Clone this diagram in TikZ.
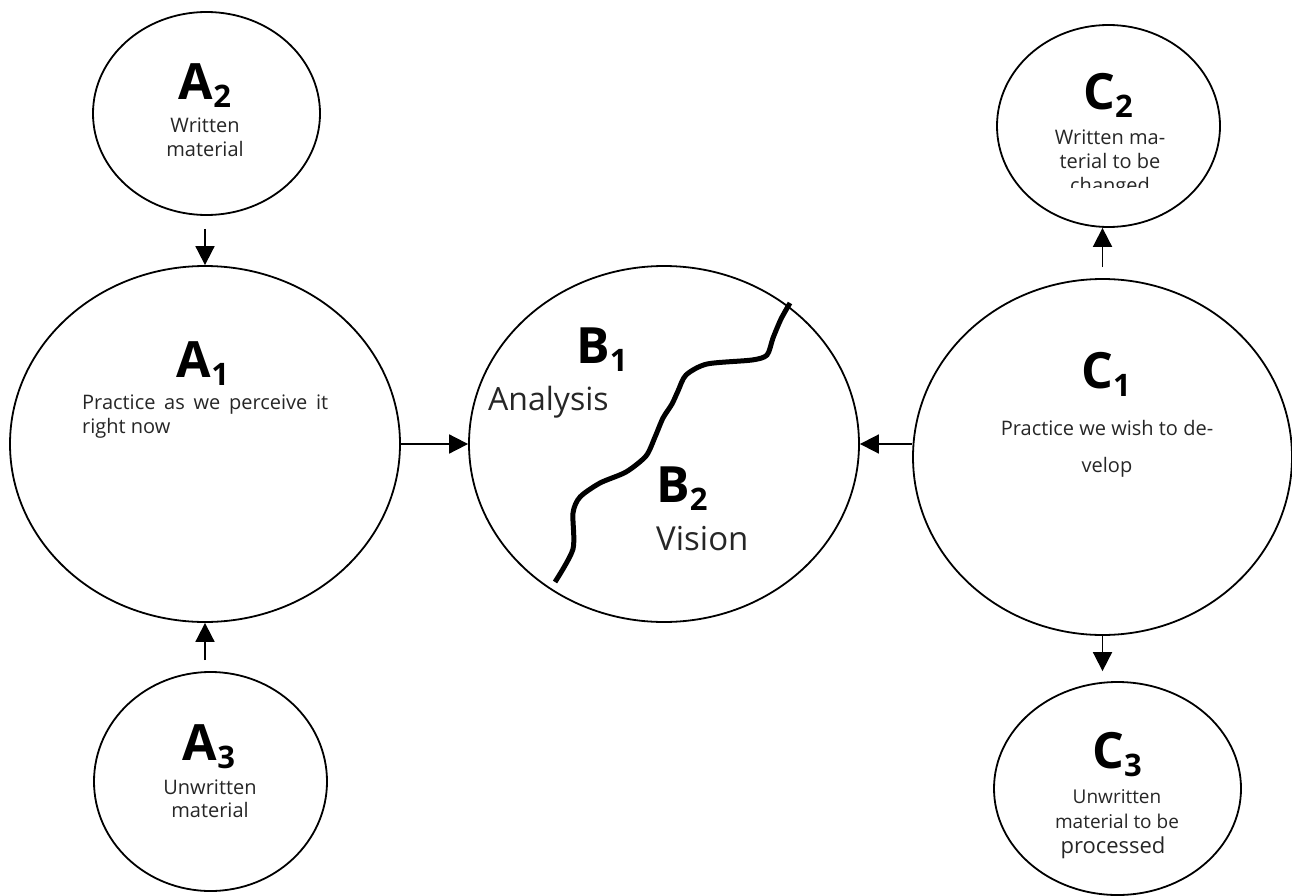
\documentclass[tikz,border=0pt]{standalone}
\usepackage{fontspec}
\setmainfont{Open Sans}
\usetikzlibrary{shapes.geometric,arrows.meta}
\newcommand\biglbl[2]{\fontsize{50}{50}\selectfont\bfseries #1\raisebox{-8pt}{\fontsize{31}{31}\selectfont\bfseries #2}}
\begin{document}
\begin{tikzpicture}[x=1pt,y=-1pt,
  ell/.style={draw, ellipse, line width=1.8pt, inner sep=0pt},
  arr/.style={line width=1.8pt, -{Triangle[length=19pt,width=19pt]}},
  lbl/.style={anchor=base, inner sep=0pt, text=black},
  txt/.style={anchor=base, inner sep=0pt, text=black!85, font=\fontsize{20}{23}\selectfont},
  wave/.style={line width=5pt}
]
\useasboundingbox (0,0) rectangle (1292,896);

% ellipses
\node[ell, minimum width=227pt, minimum height=203pt] (a2) at (206.5,113.5) {};
\node[ell, minimum width=390pt, minimum height=356pt] (a1) at (205,444) {};
\node[ell, minimum width=233pt, minimum height=219pt] (a3) at (210.5,781.5) {};
\node[ell, minimum width=390pt, minimum height=356pt] (b) at (664,444) {};
\node[ell, minimum width=379pt, minimum height=356pt] (c1) at (1102.5,457) {};
\node[ell, minimum width=223pt, minimum height=202pt] (c2) at (1108.5,126) {};
\node[ell, minimum width=247pt, minimum height=213pt] (c3) at (1117.5,788.5) {};

% connectors
\draw[arr, shorten <=13pt] (a1.north |- a2.south) -- (a1.north);
\draw[arr, shorten <=11pt] (a1.south |- a3.north) -- (a1.south);
\draw[arr] (a1.east |- b.west) -- (b.west);
\draw[arr] (c1.west |- b.east) -- (b.east);
\draw[arr, shorten <=11pt] (c1.north) -- (c1.north |- c2.south);
\draw[arr, shorten >=10pt] (c1.south) -- (c1.south |- c3.north);

% wavy divider in B
\draw[wave] plot[smooth, tension=0.45] coordinates {(790,303) (781,319) (773,338) (767,355) (752,360) (707,364) (686,375) (678,391) (672,404) (663,418) (655,437) (646,456) (626,472) (600,483) (580,497) (573,513) (573,549) (555,582)};

% A2
\node[lbl] (a2t) at (205,100) {\biglbl{A}{2}};
\node[txt] (a2x) at (205,133) {Written};
\node[txt] (a2y) at (205,157) {material};

% A1
\node[lbl] (a1t) at (203,377) {\biglbl{A}{1}};
\node[txt, anchor=base west] (a1x) at (82,409) {\hbox to 246pt{Practice\hfill as\hfill we\hfill perceive\hfill it}};
\node[txt, anchor=base west] (a1y) at (82,433) {right now};

% A3
\node[lbl] (a3t) at (209,760) {\biglbl{A}{3}};
\node[txt] (a3x) at (210,794) {Unwritten};
\node[txt] (a3y) at (210,817) {material};

% B
\node[lbl] (b1t) at (602,363) {\biglbl{B}{1}};
\node[lbl, anchor=base west, text=black!85, font=\fontsize{32}{32}\selectfont] (b1x) at (488,410) {Analysis};
\node[lbl] (b2t) at (682,502) {\biglbl{B}{2}};
\node[lbl, anchor=base west, text=black!85, font=\fontsize{33}{33}\selectfont] (b2x) at (656,550) {Vision};

% C1
\node[lbl] (c1t) at (1106,388) {\biglbl{C}{1}};
\node[txt] (c1x) at (1107,435) {Practice we wish to de-};
\node[txt] (c1y) at (1107,472) {velop};

% C2
\node[lbl] (c2t) at (1108,110) {\biglbl{C}{2}};
\node[txt] (c2x) at (1110,145) {Written ma-};
\node[txt] (c2y) at (1110,168) {terial to be};
\begin{scope}
\clip (1000,150) rectangle (1220,188);
\node[txt] (c2z) at (1110,193) {changed};
\end{scope}

% C3
\node[lbl] (c3t) at (1117,768) {\biglbl{C}{3}};
\node[txt, font=\fontsize{19}{22}\selectfont] (c3x) at (1117,803) {Unwritten};
\node[txt, font=\fontsize{19}{22}\selectfont] (c3y) at (1117,828) {material to be};
\node[txt, font=\fontsize{22}{25}\selectfont] (c3z) at (1113,853) {processed};
\end{tikzpicture}
\end{document}
